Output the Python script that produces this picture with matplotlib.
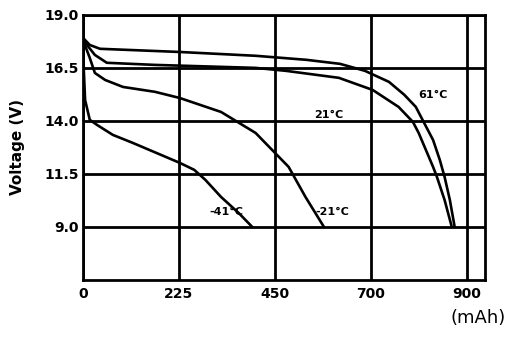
import numpy as np
import matplotlib
matplotlib.use("Agg")
import matplotlib.pyplot as plt

# tick values on x (grid is evenly spaced, but the labels are not)
x_ticks = [0, 225, 450, 700, 900]
y_ticks = [9.0, 11.5, 14.0, 16.5, 19.0]

# discharge curves, capacity (mAh) vs voltage (V)
mah_61 = [0, 16, 40, 227, 405, 532, 620, 685, 738, 770, 794, 808, 830, 844, 854, 865, 875]
v_61 = [17.92, 17.58, 17.40, 17.25, 17.07, 16.88, 16.69, 16.36, 15.84, 15.23, 14.66, 14.05,
        13.10, 12.16, 11.36, 10.27, 9.0]

mah_21 = [0, 28, 56, 169, 405, 479, 617, 704, 758, 788, 800, 830, 838, 854, 869]
v_21 = [17.82, 17.11, 16.74, 16.64, 16.50, 16.36, 16.03, 15.46, 14.66, 13.95, 13.43, 11.83,
        11.36, 10.27, 9.0]

mah_m21 = [0, 16, 28, 52, 94, 169, 227, 324, 405, 486, 530, 578]
v_m21 = [17.82, 16.97, 16.26, 15.93, 15.60, 15.37, 15.08, 14.42, 13.43, 11.83, 10.41, 9.0]

mah_m41 = [0, 2, 5, 16, 33, 70, 117, 227, 261, 287, 324, 365, 397]
v_m41 = [18.15, 16.41, 14.99, 14.05, 13.81, 13.34, 12.96, 12.02, 11.69, 11.22, 10.41, 9.66, 9.0]

# label text and where it sits (mAh, V)
labels = ["61°C", "21°C", "-21°C", "-41°C"]
label_x = [830, 590, 600, 337]
label_y = [15.2, 14.3, 9.7, 9.7]

# piecewise map so the uneven tick labels fall on even grid spacing
scale_mah = [0, 225, 450, 700, 900, 1100]
scale_div = [0, 1, 2, 3, 4, 5]


def fwd(x):
    return np.interp(x, scale_mah, scale_div)


def inv(d):
    return np.interp(d, scale_div, scale_mah)


fig = plt.figure(figsize=(5.12, 3.38), dpi=100)
ax = fig.add_axes([0.162, 0.172, 0.785, 0.784])
ax.set_xscale('function', functions=(fwd, inv))

for xs, ys in [(mah_61, v_61), (mah_21, v_21), (mah_m21, v_m21), (mah_m41, v_m41)]:
    ax.plot(xs, ys, color='black', lw=1.9)

for t, x, y in zip(labels, label_x, label_y):
    ax.text(x, y, t, fontsize=8, fontweight='bold', ha='center', va='center')

ax.set_xlim(0, 938)
ax.set_ylim(6.5, 19.0)
ax.set_xticks(x_ticks)
ax.set_xticklabels([str(v) for v in x_ticks])
ax.set_yticks(y_ticks)
ax.set_yticklabels(['%.1f' % v for v in y_ticks])
ax.grid(True, color='black', lw=2)
ax.tick_params(length=0, labelsize=10)
ax.tick_params(axis='y', pad=3)
ax.tick_params(axis='x', pad=5)
for lab in ax.get_xticklabels() + ax.get_yticklabels():
    lab.set_fontweight('bold')
for s in ax.spines.values():
    s.set_linewidth(2)

ax.set_ylabel('Voltage (V)', fontsize=11, fontweight='bold', labelpad=14)
fig.text(0.988, 0.058, '(mAh)', fontsize=13, ha='right', va='center')

fig.savefig('out.png', dpi=100)
